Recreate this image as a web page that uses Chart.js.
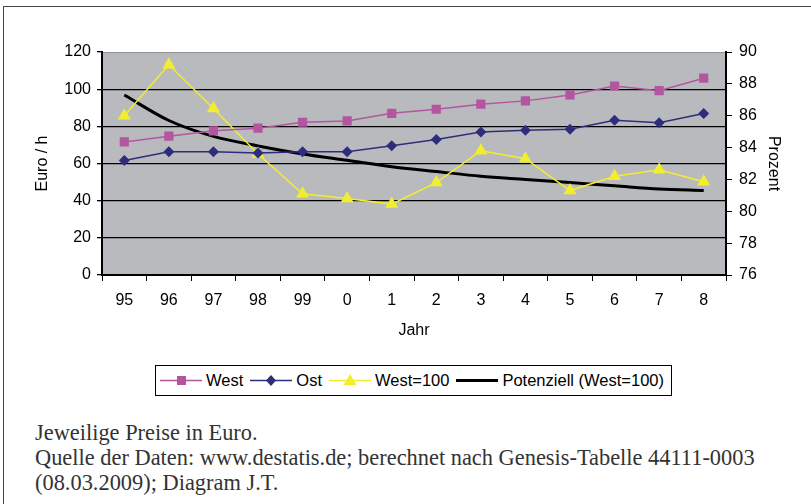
<!DOCTYPE html>
<html lang="de">
<head>
  <meta charset="UTF-8" />
  <title>Preise West / Ost</title>
  <script src="https://cdn.jsdelivr.net/npm/chart.js"></script>
  <style>
    body {
      margin: 0;
      background: #fff;
      width: 811px;
      height: 504px;
      position: relative;
      overflow: hidden;
      font-family: 'Liberation Sans', Arial, sans-serif;
    }

    #frame {
      position: absolute;
      left: 3px;
      top: 6px;
      width: 820px;
      height: 520px;
      border-left: 1px solid #444;
      border-top: 1px solid #444;
    }

    #chart {
      position: absolute;
      left: 0;
      top: 0;
    }

    #legend {
      position: absolute;
      left: 155px;
      top: 365px;
      width: 517px;
      height: 31px;
      border: 1.5px solid #000;
      background: #fff;
      display: flex;
      align-items: center;
      padding-left: 4px;
      box-sizing: border-box;
      font-size: 16.5px;
      color: #000;
    }

    #legend .item {
      display: flex;
      align-items: center;
      margin-right: 7px;
    }

    #legend svg {
      margin-right: 4px;
    }

    #note {
      position: absolute;
      left: 35px;
      top: 420px;
      font-family: 'Liberation Serif', 'Times New Roman', serif;
      font-size: 22.4px;
      line-height: 25px;
      color: #333;
    }
  </style>
</head>
<body>
  <div id="frame"></div>
  <canvas id="chart" width="811" height="360"></canvas>
  <div id="legend"></div>
  <div id="note">
    Jeweilige Preise in Euro.<br>
    Quelle der Daten: www.destatis.de; berechnet nach Genesis-Tabelle 44111-0003<br>
    (08.03.2009); Diagram J.T.
  </div>

  <script>
    // Jahre (Achsenbeschriftung)
    const years = ['95', '96', '97', '98', '99', '0', '1', '2', '3', '4', '5', '6', '7', '8'];

    // Euro / h
    const west = [71.6, 74.7, 77.6, 79.0, 82.2, 82.9, 87.0, 89.2, 91.9, 93.7, 96.9, 101.7, 99.2, 105.9];
    const ost  = [61.6, 66.3, 66.3, 65.6, 66.3, 66.3, 69.5, 72.9, 77.0, 77.9, 78.4, 83.3, 81.9, 86.9];

    // Prozent (rechte Achse)
    const westGleich100 = [86.0, 89.2, 86.45, 83.6, 81.1, 80.8, 80.45, 81.8, 83.8, 83.3, 81.3, 82.2, 82.6, 81.85];
    const potenziell    = [87.3, 85.7, 84.7, 84.1, 83.6, 83.2, 82.8, 82.5, 82.2, 82.0, 81.8, 81.6, 81.4, 81.3];

    const leftTicks = [0, 120, 20];   // min, max, step
    const rightTicks = [76, 90, 2];

    const series = [
      { label: 'West', data: west, color: '#b4559f', marker: 'rect', axis: 'y', radius: 6.5 },
      { label: 'Ost', data: ost, color: '#2e2d7c', marker: 'rectRot', axis: 'y', radius: 5.5 },
      { label: 'West=100', data: westGleich100, color: '#f2ee2e', marker: 'triangle', axis: 'y1', radius: 7.5 },
      { label: 'Potenziell (West=100)', data: potenziell, color: '#000000', marker: false, axis: 'y1', radius: 0 }
    ];

    const font = { family: "'Liberation Sans', Arial, sans-serif", size: 16 };

    const plotBg = {
      id: 'plotBg',
      beforeDraw(chart) {
        const { ctx, chartArea: a } = chart;
        ctx.save();
        ctx.fillStyle = '#b9babe';
        ctx.fillRect(a.left, a.top, a.right - a.left, a.bottom - a.top);
        ctx.strokeStyle = '#8f9094';
        ctx.lineWidth = 1;
        ctx.beginPath();
        ctx.moveTo(a.left, a.top + 0.5);
        ctx.lineTo(a.right, a.top + 0.5);
        ctx.stroke();
        ctx.restore();
      }
    };

    new Chart(document.getElementById('chart'), {
      type: 'line',
      data: {
        labels: years,
        datasets: series.map(s => ({
          label: s.label,
          data: s.data,
          yAxisID: s.axis,
          borderColor: s.color,
          backgroundColor: s.color,
          borderWidth: s.marker ? 1.5 : 3,
          pointStyle: s.marker || 'circle',
          pointRadius: s.radius,
          pointBorderWidth: 0,
          tension: s.marker ? 0 : 0.4,
          cubicInterpolationMode: s.marker ? 'default' : 'monotone'
        }))
      },
      options: {
        responsive: false,
        animation: false,
        devicePixelRatio: 1,
        layout: { padding: { top: 52, left: 0, right: 0, bottom: 0 } },
        plugins: {
          legend: { display: false },
          tooltip: { enabled: false }
        },
        scales: {
          x: {
            offset: true,
            grid: { offset: true, drawOnChartArea: false, color: '#000', tickLength: 6 },
            border: { color: '#000', width: 2 },
            ticks: { font: font, color: '#000', padding: 10, maxRotation: 0 },
            title: { display: true, text: 'Jahr', font: font, color: '#000', padding: { top: 0, bottom: 20 } },
            afterFit(scale) { scale.height = 85; }
          },
          y: {
            position: 'left',
            min: leftTicks[0],
            max: leftTicks[1],
            ticks: { stepSize: leftTicks[2], font: font, color: '#000', padding: 6 },
            grid: {
              color: c => c.tick && c.tick.value === leftTicks[1] ? 'rgba(0,0,0,0)' : '#000',
              tickColor: '#000',
              lineWidth: 1.3,
              tickLength: 5
            },
            border: { color: '#000', width: 2 },
            title: { display: true, text: 'Euro / h', font: font, color: '#000', padding: { top: 33, bottom: 0 } },
            afterFit(scale) { scale.width = 102; }
          },
          y1: {
            position: 'right',
            min: rightTicks[0],
            max: rightTicks[1],
            ticks: { stepSize: rightTicks[2], font: font, color: '#000', padding: 7 },
            grid: { drawOnChartArea: false, color: '#000', tickLength: 6 },
            border: { color: '#000', width: 2 },
            title: { display: true, text: 'Prozent', font: font, color: '#000', padding: { top: 28, bottom: 0 } },
            afterFit(scale) { scale.width = 85; }
          }
        }
      },
      plugins: [plotBg]
    });

    // Legende
    function icon(s) {
      let m = '';
      if (s.marker === 'rect') m = `<rect x="17" y="5" width="9" height="9" fill="${s.color}"/>`;
      if (s.marker === 'rectRot') m = `<polygon points="21,4 26,9.5 21,15 16,9.5" fill="${s.color}"/>`;
      if (s.marker === 'triangle') m = `<polygon points="21,3 27.5,14 14.5,14" fill="${s.color}"/>`;
      const w = s.marker ? 1.5 : 3;
      return `<svg width="42" height="19"><line x1="0" y1="9.5" x2="42" y2="9.5" stroke="${s.color}" stroke-width="${w}"/>${m}</svg>`;
    }
    document.getElementById('legend').innerHTML = series
      .map(s => `<span class="item">${icon(s)}<span>${s.label}</span></span>`)
      .join('');
  </script>
</body>
</html>
